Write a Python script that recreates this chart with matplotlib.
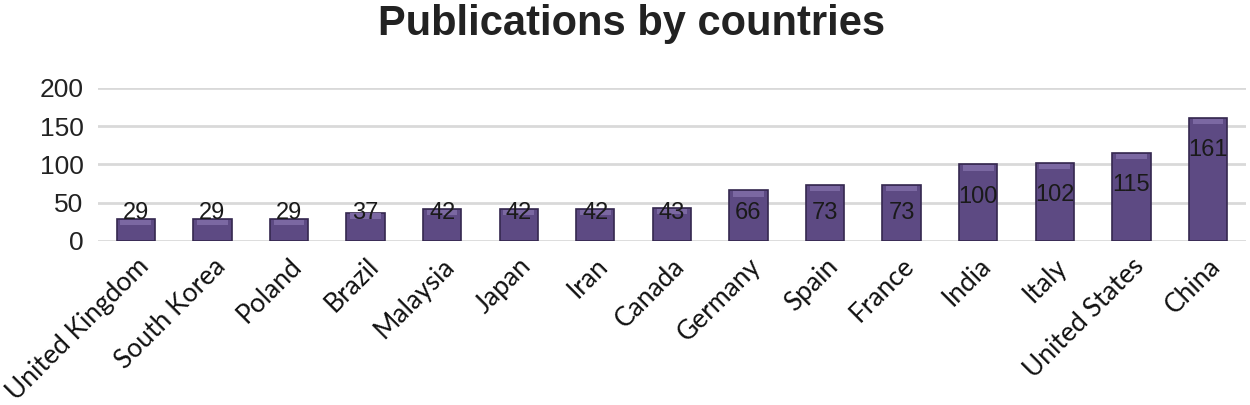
import numpy as np
import matplotlib.pyplot as plt

countries = ['United Kingdom', 'South Korea', 'Poland', 'Brazil', 'Malaysia', 'Japan', 'Iran',
             'Canada', 'Germany', 'Spain', 'France', 'India', 'Italy', 'United States', 'China']
publications = [29, 29, 29, 37, 42, 42, 42, 43, 66, 73, 73, 100, 102, 115, 161]
y_ticks = [0, 50, 100, 150, 200]

fig = plt.figure(figsize=(12.5, 4.05), dpi=100)
ax = fig.add_axes([0.078, 0.405, 0.919, 0.378])

x = np.arange(len(countries))

#Main bars
ax.bar(x, publications, width=0.5, color='#5d4a83', edgecolor='#35284f', linewidth=1.2, zorder=3)

#Lighter bevel on top of each bar
for xi, v in zip(x, publications):
    ax.bar(xi, 7, bottom=v - 8, width=0.40, color='#7b68a2', linewidth=0, zorder=4)

#Value labels inside the bars
for xi, v in zip(x, publications):
    ax.text(xi, max(v - 42, 37), str(v), ha='center', va='center', fontsize=17,
            family='Liberation Sans', color='#1a1a1a', zorder=5)

ax.set_xlim(-0.5, len(countries) - 0.5)
ax.set_ylim(0, 200)
ax.set_yticks(y_ticks)
ax.set_yticklabels([str(t) for t in y_ticks], fontsize=19, family='Liberation Sans', color='#222222')
ax.set_xticks(x)
ax.set_xticklabels(countries, rotation=45, ha='right', rotation_mode='anchor',
                   fontsize=19, family='Lato', color='#111111')
ax.tick_params(axis='both', length=0)
ax.tick_params(axis='y', pad=10)
ax.tick_params(axis='x', pad=9)

ax.grid(axis='y', color='#d9d9d9', linewidth=2, zorder=0)
for s in ax.spines.values():
    s.set_visible(False)

fig.suptitle('Publications by countries', x=0.505, y=0.99, fontsize=30, fontweight='bold',
             family='Liberation Sans', color='#222222')

fig.savefig('out.png', dpi=100)
